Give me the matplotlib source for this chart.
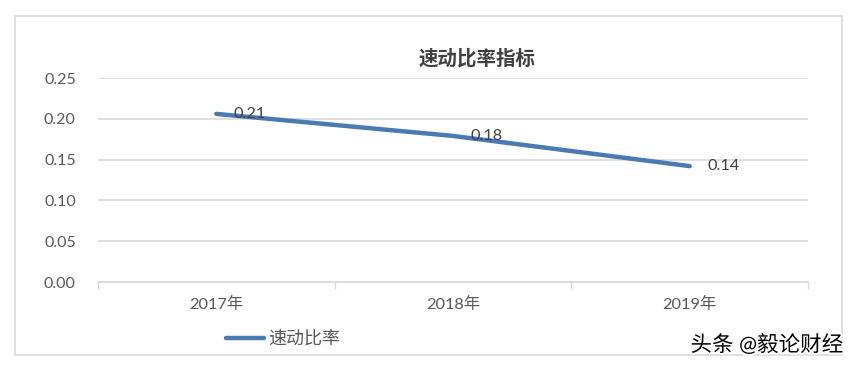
import matplotlib.pyplot as plt
import matplotlib.patheffects as pe
from matplotlib.patches import Rectangle
from matplotlib.lines import Line2D

plt.rcParams['font.family'] = ['Lato', 'Noto Sans CJK SC', 'DejaVu Sans']

# data
years = ['2017年', '2018年', '2019年']
quick_ratio = [0.206, 0.179, 0.142]
value_labels = ['0.21', '0.18', '0.14']
y_ticks = [0.00, 0.05, 0.10, 0.15, 0.20, 0.25]

W, H = 853, 366
fig = plt.figure(figsize=(W / 100, H / 100), dpi=100)
ax = fig.add_axes([98 / W, 1 - 282 / H, (808 - 98) / W, (282 - 78) / H])

grey = '#595959'
grid = '#d9d9d9'
blue = '#4a7ab4'

x = list(range(len(years)))
ax.plot(x, quick_ratio, color=blue, lw=3.2, solid_capstyle='round', zorder=3)
for xi, v, lab in zip(x, quick_ratio, value_labels):
    ax.annotate(lab, (xi, v), xytext=(12.5, 0), textcoords='offset points',
                ha='left', va='center', fontsize=11.8, color='#404040', zorder=4)

ax.set_xlim(-0.5, len(years) - 0.5)
ax.set_ylim(0, 0.25)
ax.set_yticks(y_ticks)
ax.set_yticklabels(['%.2f' % t for t in y_ticks])
ax.set_xticks(x)
ax.set_xticklabels(years)
ax.set_xticks([i - 0.5 for i in range(len(years) + 1)], minor=True)
ax.tick_params(axis='x', which='major', length=0, pad=11, labelsize=11.8, labelcolor=grey)
ax.tick_params(axis='x', which='minor', length=5, width=1, color=grid)
ax.tick_params(axis='y', length=0, pad=16, labelsize=11.5, labelcolor=grey)
ax.yaxis.grid(True, color=grid, lw=1.2)
ax.set_axisbelow(True)
for s in ['top', 'right', 'left']:
    ax.spines[s].set_visible(False)
ax.spines['bottom'].set_color(grid)
ax.spines['bottom'].set_linewidth(1.2)

fig.text(477 / W, 1 - 58 / H, '速动比率指标', ha='center', va='center',
         fontsize=14, fontweight='bold', color='#404040')

# legend
fig.add_artist(Line2D([226 / W, 264 / W], [1 - 338 / H] * 2, color=blue, lw=3.2,
                      solid_capstyle='round'))
fig.text(268 / W, 1 - 338 / H, '速动比率', ha='left', va='center', fontsize=13, color=grey)

# chart border
fig.add_artist(Rectangle((15 / W, 1 - 355 / H), (842 - 15) / W, (355 - 16) / H,
                         fill=False, ec=grid, lw=1.2, transform=fig.transFigure))

fig.text(843 / W, 1 - 345 / H, '头条 @毅论财经', ha='right', va='center', fontsize=15.5,
         color='black', path_effects=[pe.withStroke(linewidth=3, foreground='white')])

fig.savefig('out.png', dpi=100)
